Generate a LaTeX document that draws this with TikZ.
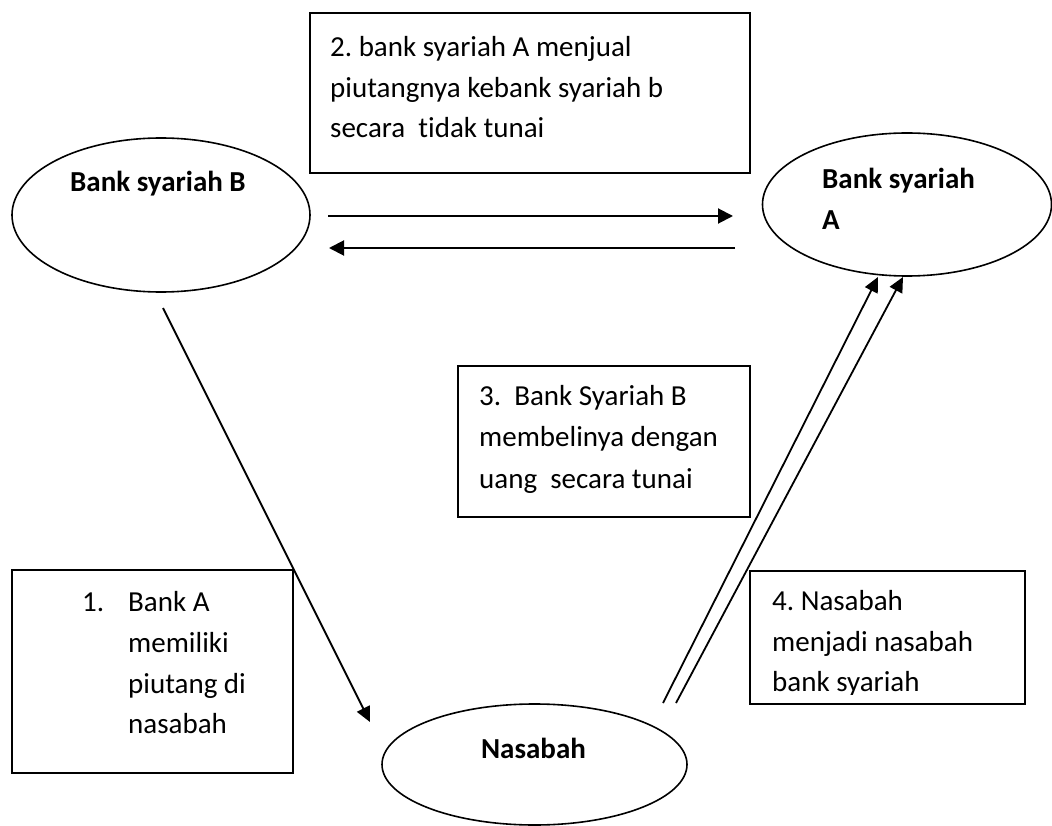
\documentclass[tikz,border=0pt]{standalone}
\usepackage{fontspec}
\setmainfont{Carlito}[Ligatures=NoCommon]
\usetikzlibrary{shapes.geometric,arrows.meta}
\frenchspacing
\tikzset{
  every node/.style={font=\fontsize{29}{41}\selectfont},
  bubble/.style={draw, ellipse, line width=1.6pt, inner sep=0pt},
  textbox/.style={draw, line width=1.6pt, inner sep=0pt},
  txt/.style={anchor=base west, inner sep=0pt},
  btxt/.style={anchor=base west, inner sep=0pt, font=\fontsize{29}{41}\selectfont\bfseries},
  flow/.style={line width=1.8pt, -{Triangle[length=15pt,width=14pt]}},
  hflow/.style={line width=2pt, -{Triangle[length=15pt,width=15pt]}}
}
\begin{document}
\begin{tikzpicture}[x=1pt,y=-1pt]
\useasboundingbox (0,0) rectangle (1052,826);

% ellipses
\node[bubble, minimum width=298pt, minimum height=154pt] (bankB) at (161,215) {};
\node[bubble, minimum width=289pt, minimum height=143pt] (bankA) at (907,204.5) {};
\node[bubble, minimum width=305pt, minimum height=121pt] (nasabah) at (534.5,764.5) {};

\node[btxt] (tB) at (70,192) {Bank syariah B};
\node[btxt] (tA1) at (822,189) {Bank syariah};
\node[btxt] (tA2) at (822,230) {A};
\node[btxt, anchor=base] (tN) at (533.5,758) {Nasabah};

% boxes
\draw[textbox] (310,13) rectangle (750,173);
\node[txt] (b2l1) at (330,57) {2. bank syariah A menjual};
\node[txt] (b2l2) at (330,98) {piutangnya kebank syariah b};
\node[txt] (b2l3) at (330,138) {secara\ \ tidak tunai};

\draw[textbox] (458,366) rectangle (750,517);
\node[txt] (b3l1) at (479,405) {3.\ \ Bank Syariah B};
\node[txt] (b3l2) at (479,446.5) {membelinya dengan};
\node[txt] (b3l3) at (479,488) {uang\ \ secara tunai};

\draw[textbox] (750,571) rectangle (1025,704);
\begin{scope}
\clip (750,571) rectangle (1025,694);
\node[txt] (b4l1) at (772,610) {4. Nasabah};
\node[txt] (b4l2) at (772,651) {menjadi nasabah};
\node[txt] (b4l3) at (772,691) {bank syariah};
\end{scope}

\draw[textbox] (12,570) rectangle (293,773);
\node[txt] (b1n) at (82,611) {1.};
\node[txt] (b1l1) at (128,611) {Bank A};
\node[txt] (b1l2) at (128,652) {memiliki};
\node[txt] (b1l3) at (128,693) {piutang di};
\node[txt] (b1l4) at (128,733) {nasabah};

% connector end points
\coordinate (r1) at (328,216);
\coordinate (r2) at (733,216);
\coordinate (l1) at (735,248);
\coordinate (l2) at (329,248);
\coordinate (d1) at (163,308);
\coordinate (d2) at (370,722);
\coordinate (u1a) at (663,703);
\coordinate (u1b) at (878,277);
\coordinate (u2a) at (676,703);
\coordinate (u2b) at (903,277);

\draw[hflow] (r1) -- (r2);
\draw[hflow] (l1) -- (l2);
\draw[flow] (d1) -- (d2);
\draw[flow] (u1a) -- (u1b);
\draw[flow] (u2a) -- (u2b);
\end{tikzpicture}
\end{document}
